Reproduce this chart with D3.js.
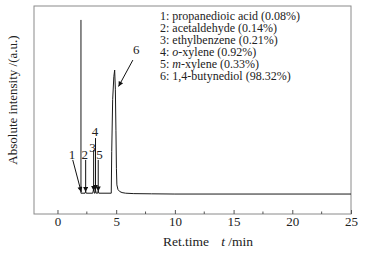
<!DOCTYPE html>
<html>
<head>
<meta charset="utf-8">
<script src="https://cdn.jsdelivr.net/npm/d3@7"></script>
<style>
  body { margin: 0; background: #fff; }
  text { font-family: "Liberation Serif", "Times New Roman", serif; fill: #222; }
</style>
</head>
<body>
<svg id="chart" width="368" height="253"></svg>
<script>
// chromatogram trace (time in min, intensity in a.u.)
const traceTime = [2.0, 2.0, 2.35, 2.4, 2.45, 3.0, 3.08, 3.15, 3.2, 3.24, 3.3, 3.42, 3.47, 3.52,
  4.58, 4.62, 4.7, 4.8, 4.87, 4.93, 4.98, 5.02, 5.06, 5.15, 5.3, 5.5, 5.8, 6.5, 8, 10, 25];
const traceIntensity = [93.3, 10, 10, 10.8, 10, 10, 12, 10, 10, 11.5, 10, 10, 11, 10,
  10, 30, 55, 66, 69.2, 60, 40, 22, 14, 11.8, 10.8, 10.3, 10.0, 9.8, 9.7, 9.6, 9.6];

// peak labels and arrows
const peakLabels = ["1", "2", "3", "4", "5", "6"];
const labelTime = [1.23, 2.32, 2.98, 3.19, 3.58, 6.71];
const labelIntensity = [28.4, 28.4, 32.2, 39.9, 28.4, 79.3];
const arrowFromTime = [1.30, 2.40, 3.08, 3.24, 3.47, 6.42];
const arrowFromIntensity = [26, 26, 30.8, 36.5, 26, 74];
const arrowToTime = [2.02, 2.40, 3.08, 3.24, 3.47, 5.2];
const arrowToIntensity = [10.6, 10.6, 11, 11.5, 10.8, 61.3];

const legendNames = [
  ["1: propanedioic acid (0.08%)"],
  ["2: acetaldehyde (0.14%)"],
  ["3: ethylbenzene (0.21%)"],
  ["4: ", "o", "-xylene (0.92%)"],
  ["5: ", "m", "-xylene (0.33%)"],
  ["6: 1,4-butynediol (98.32%)"]
];

const xTicks = [0, 5, 10, 15, 20, 25];
const xMinorTicks = [2.5, 7.5, 12.5, 17.5, 22.5];

const margin = {left: 34, top: 6, right: 351, bottom: 214};
const svg = d3.select("#chart");

const x = d3.scaleLinear().domain([-2, 25]).range([margin.left, margin.right]);
const y = d3.scaleLinear().domain([0, 100]).range([margin.bottom, margin.top]);

svg.append("defs").append("marker")
  .attr("id", "head")
  .attr("viewBox", "0 0 10 10")
  .attr("refX", 10).attr("refY", 5)
  .attr("markerWidth", 7).attr("markerHeight", 5)
  .attr("markerUnits", "userSpaceOnUse")
  .attr("orient", "auto")
  .append("path").attr("d", "M0,0L10,5L0,10Z").attr("fill", "#111");

// frame
svg.append("rect")
  .attr("x", margin.left).attr("y", margin.top)
  .attr("width", margin.right - margin.left)
  .attr("height", margin.bottom - margin.top)
  .attr("fill", "none").attr("stroke", "#8a8a8a").attr("stroke-width", 1);

// bottom axis, ticks inward
const axis = svg.append("g").attr("transform", `translate(0,${margin.bottom})`);
axis.call(d3.axisBottom(x).tickValues(xTicks).tickSizeInner(-4).tickSizeOuter(0).tickPadding(3));
axis.select(".domain").remove();
axis.selectAll(".tick line").attr("stroke", "#555");
axis.selectAll(".tick text").attr("font-size", 13).attr("fill", "#222")
  .attr("font-family", "Liberation Serif");
axis.selectAll(".minor").data(xMinorTicks).enter()
  .append("line").attr("class", "minor")
  .attr("x1", d => x(d)).attr("x2", d => x(d))
  .attr("y1", 0).attr("y2", -2.5).attr("stroke", "#555");

// trace
const pts = traceTime.map((t, i) => [t, traceIntensity[i]]);
svg.append("path")
  .attr("d", d3.line().x(d => x(d[0])).y(d => y(d[1]))(pts))
  .attr("fill", "none").attr("stroke", "#1a1a1a").attr("stroke-width", 1);

// arrows
peakLabels.forEach((lab, i) => {
  svg.append("line")
    .attr("x1", x(arrowFromTime[i])).attr("y1", y(arrowFromIntensity[i]))
    .attr("x2", x(arrowToTime[i])).attr("y2", y(arrowToIntensity[i]))
    .attr("stroke", "#111").attr("stroke-width", 1)
    .attr("marker-end", "url(#head)");
  svg.append("text")
    .attr("x", x(labelTime[i])).attr("y", y(labelIntensity[i]))
    .attr("text-anchor", "middle").attr("dominant-baseline", "central")
    .attr("font-size", 13).text(lab);
});

// legend
const leg = svg.append("g");
legendNames.forEach((parts, i) => {
  const t = leg.append("text")
    .attr("x", 160).attr("y", 16 + i * 12)
    .attr("dominant-baseline", "central")
    .attr("font-size", 12);
  parts.forEach(p => {
    t.append("tspan").attr("font-style", (p === "o" || p === "m") ? "italic" : null).text(p);
  });
});

// axis titles
const xt = svg.append("text")
  .attr("x", 163).attr("y", 241)
  .attr("dominant-baseline", "central")
  .attr("font-size", 13.5);
xt.append("tspan").text("Ret.time");
xt.append("tspan").attr("dx", 12).attr("font-style", "italic").text("t");
xt.append("tspan").text(" /min");

svg.append("text")
  .attr("transform", "translate(12.5,100) rotate(-90)")
  .attr("text-anchor", "middle").attr("dominant-baseline", "central")
  .attr("font-size", 13).text("Absolute intensity /(a.u.)");
</script>
</body>
</html>
